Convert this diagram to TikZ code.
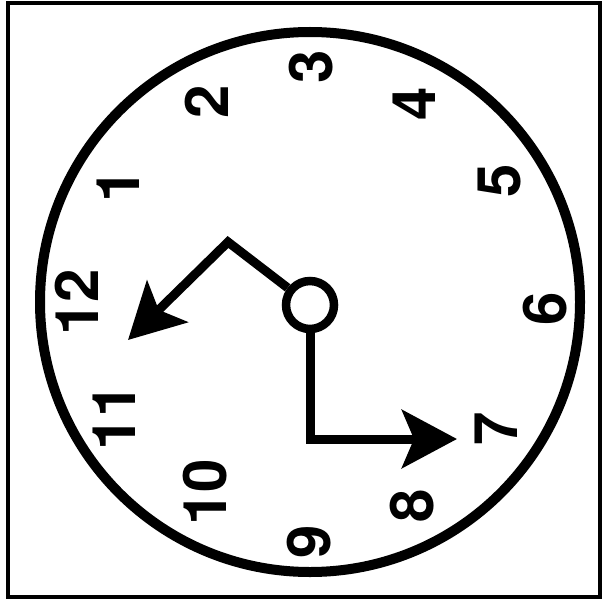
\documentclass[tikz,border=0pt]{standalone}
\usepackage{fontspec}
\setmainfont{TeX Gyre Heros}
\usetikzlibrary{arrows.meta}
\begin{document}
\begin{tikzpicture}[x=1pt,y=-1pt,
  num/.style={font=\fontsize{60}{60}\selectfont\bfseries, rotate=90, inner sep=0pt},
  hand/.style={line width=9pt, line join=miter, -{Stealth[length=55pt,width=58pt,inset=12pt]}},
  hubstyle/.style={circle, draw, line width=8.5pt, minimum size=48pt, inner sep=0pt},
]
\useasboundingbox (0,0) rectangle (605,607);
\draw[line width=4pt] (8,3.5) rectangle (600,597);
\draw[line width=10pt] (310,302) circle[radius=270pt];
% numbers
\node[num] (n3)  at (311,67)  {3};
\node[num] (n2)  at (207,102) {2};
\node[num] (n4)  at (414,104) {4};
\node[num] (n1)  at (118,186) {1};
\node[num] (n5)  at (499,181) {5};
\node[num] (n12) at (77,302)  {12};
\node[num] (n6)  at (545,309) {6};
\node[num] (n11) at (114,417) {11};
\node[num] (n7)  at (496,429) {7};
\node[num] (n10) at (205,492) {10};
\node[num] (n8)  at (412,506) {8};
\node[num] (n9)  at (309,542) {9};
% hub and hands
\node[hubstyle] (hub) at (310,305) {};
\coordinate (bend) at (228,242);
\coordinate (tipA) at (128,340);
\coordinate (tipB) at (457,439);
\draw[hand] (hub) -- (bend) -- (tipA);
\draw[hand] (hub) |- (tipB);
\end{tikzpicture}
\end{document}
